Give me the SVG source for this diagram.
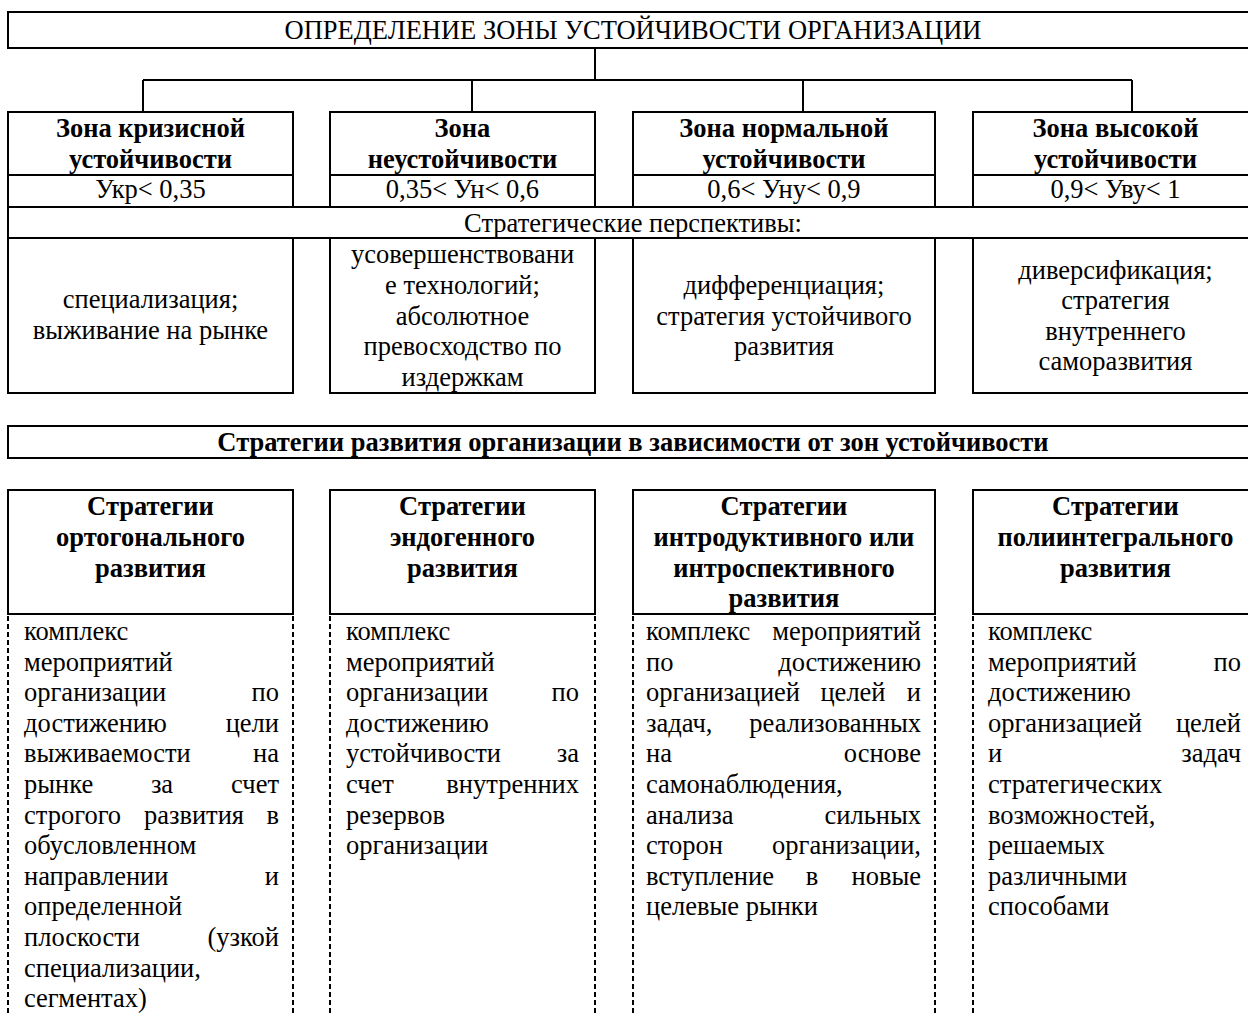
<svg xmlns="http://www.w3.org/2000/svg" width="1248" height="1014" viewBox="0 0 1248 1014">
<style>
.bx{fill:none;stroke:#000;stroke-width:2}
.ln{fill:none;stroke:#000;stroke-width:2}
.dt{fill:none;stroke:#000;stroke-width:2;stroke-dasharray:5 3}
text{font-family:"Liberation Serif","Times New Roman",serif;font-size:26.5px;fill:#000}
.b{font-weight:bold}
.c{text-anchor:middle}
.r{text-anchor:end}
</style>
<rect width="1248" height="1014" fill="#fff"/>
<g id="connectors">
<path class="ln" d="M595 48V80M143 80H1132M143 80V112M472 80V112M803 80V112M1132 80V112"/>
</g>
<g id="title">
<rect class="bx" x="8" y="12" width="1250" height="36"/>
<text class="c" x="633" y="38.5">ОПРЕДЕЛЕНИЕ ЗОНЫ УСТОЙЧИВОСТИ ОРГАНИЗАЦИИ</text>
</g>
<g id="zone1">
<rect class="bx" x="8" y="112" width="285" height="95"/>
<path class="ln" d="M8 175H293"/>
<text class="c b" x="150.5" y="137">Зона кризисной</text>
<text class="c b" x="150.5" y="167.5">устойчивости</text>
<text class="c" x="150.5" y="198">Укр&lt; 0,35</text>
</g>
<g id="zone2">
<rect class="bx" x="330" y="112" width="265" height="95"/>
<path class="ln" d="M330 175H595"/>
<text class="c b" x="462.5" y="137">Зона</text>
<text class="c b" x="462.5" y="167.5">неустойчивости</text>
<text class="c" x="462.5" y="198">0,35&lt; Ун&lt; 0,6</text>
</g>
<g id="zone3">
<rect class="bx" x="633" y="112" width="302" height="95"/>
<path class="ln" d="M633 175H935"/>
<text class="c b" x="784" y="137">Зона нормальной</text>
<text class="c b" x="784" y="167.5">устойчивости</text>
<text class="c" x="784" y="198">0,6&lt; Уну&lt; 0,9</text>
</g>
<g id="zone4">
<rect class="bx" x="973" y="112" width="285" height="95"/>
<path class="ln" d="M973 175H1258"/>
<text class="c b" x="1115.5" y="137">Зона высокой</text>
<text class="c b" x="1115.5" y="167.5">устойчивости</text>
<text class="c" x="1115.5" y="198">0,9&lt; Уву&lt; 1</text>
</g>
<g id="perspectives-row">
<rect class="bx" x="8" y="207" width="1250" height="31"/>
<text class="c" x="633" y="232">Стратегические перспективы:</text>
</g>
<g id="persp1">
<rect class="bx" x="8" y="238" width="285" height="155"/>
<text class="c" x="150.5" y="308">специализация;</text>
<text class="c" x="150.5" y="338.5">выживание на рынке</text>
</g>
<g id="persp2">
<rect class="bx" x="330" y="238" width="265" height="155"/>
<text class="c" x="462.5" y="263.3">усовершенствовани</text>
<text class="c" x="462.5" y="293.9">е технологий;</text>
<text class="c" x="462.5" y="324.5">абсолютное</text>
<text class="c" x="462.5" y="355.1">превосходство по</text>
<text class="c" x="462.5" y="385.7">издержкам</text>
</g>
<g id="persp3">
<rect class="bx" x="633" y="238" width="302" height="155"/>
<text class="c" x="784" y="294">дифференциация;</text>
<text class="c" x="784" y="324.5">стратегия устойчивого</text>
<text class="c" x="784" y="355">развития</text>
</g>
<g id="persp4">
<rect class="bx" x="973" y="238" width="285" height="155"/>
<text class="c" x="1115.5" y="278.6">диверсификация;</text>
<text class="c" x="1115.5" y="309.2">стратегия</text>
<text class="c" x="1115.5" y="339.8">внутреннего</text>
<text class="c" x="1115.5" y="370.4">саморазвития</text>
</g>
<g id="strategies-title">
<rect class="bx" x="8" y="426" width="1250" height="32"/>
<text class="c b" x="633" y="451">Стратегии развития организации в зависимости от зон устойчивости</text>
</g>
<g id="strategy1">
<rect class="bx" x="8" y="490" width="285" height="124"/>
<text class="c b" x="150.5" y="515">Стратегии</text>
<text class="c b" x="150.5" y="546">ортогонального</text>
<text class="c b" x="150.5" y="576.5">развития</text>
<path class="dt" d="M8 616V1014M293 616V1014"/>
<text x="24" y="640">комплекс</text>
<text x="24" y="670.6">мероприятий</text>
<text x="24" y="701.2">организации</text><text class="r" x="279" y="701.2">по</text>
<text x="24" y="731.8">достижению</text><text class="r" x="279" y="731.8">цели</text>
<text x="24" y="762.4">выживаемости</text><text class="r" x="279" y="762.4">на</text>
<text x="24" y="793">рынке</text><text class="c" x="162" y="793">за</text><text class="r" x="279" y="793">счет</text>
<text x="24" y="823.6">строгого</text><text class="c" x="194" y="823.6">развития</text><text class="r" x="279" y="823.6">в</text>
<text x="24" y="854.2">обусловленном</text>
<text x="24" y="884.8">направлении</text><text class="r" x="279" y="884.8">и</text>
<text x="24" y="915.4">определенной</text>
<text x="24" y="946">плоскости</text><text class="r" x="279" y="946">(узкой</text>
<text x="24" y="976.6">специализации,</text>
<text x="24" y="1007.2">сегментах)</text>
</g>
<g id="strategy2">
<rect class="bx" x="330" y="490" width="265" height="124"/>
<text class="c b" x="462.5" y="515">Стратегии</text>
<text class="c b" x="462.5" y="546">эндогенного</text>
<text class="c b" x="462.5" y="576.5">развития</text>
<path class="dt" d="M330 616V1014M595 616V1014"/>
<text x="346" y="640">комплекс</text>
<text x="346" y="670.6">мероприятий</text>
<text x="346" y="701.2">организации</text><text class="r" x="579" y="701.2">по</text>
<text x="346" y="731.8">достижению</text>
<text x="346" y="762.4">устойчивости</text><text class="r" x="579" y="762.4">за</text>
<text x="346" y="793">счет</text><text class="r" x="579" y="793">внутренних</text>
<text x="346" y="823.6">резервов</text>
<text x="346" y="854.2">организации</text>
</g>
<g id="strategy3">
<rect class="bx" x="633" y="490" width="302" height="124"/>
<text class="c b" x="784" y="515">Стратегии</text>
<text class="c b" x="784" y="546">интродуктивного или</text>
<text class="c b" x="784" y="576.5">интроспективного</text>
<text class="c b" x="784" y="607">развития</text>
<path class="dt" d="M633 616V1014M935 616V1014"/>
<text x="646" y="640">комплекс</text><text class="r" x="921" y="640">мероприятий</text>
<text x="646" y="670.6">по</text><text class="r" x="921" y="670.6">достижению</text>
<text x="646" y="701.2">организацией</text><text class="c" x="853" y="701.2">целей</text><text class="r" x="921" y="701.2">и</text>
<text x="646" y="731.8">задач,</text><text class="r" x="921" y="731.8">реализованных</text>
<text x="646" y="762.4">на</text><text class="r" x="921" y="762.4">основе</text>
<text x="646" y="793">самонаблюдения,</text>
<text x="646" y="823.6">анализа</text><text class="r" x="921" y="823.6">сильных</text>
<text x="646" y="854.2">сторон</text><text class="r" x="921" y="854.2">организации,</text>
<text x="646" y="884.8">вступление</text><text class="c" x="812" y="884.8">в</text><text class="r" x="921" y="884.8">новые</text>
<text x="646" y="915.4">целевые рынки</text>
</g>
<g id="strategy4">
<rect class="bx" x="973" y="490" width="285" height="124"/>
<text class="c b" x="1115.5" y="515">Стратегии</text>
<text class="c b" x="1115.5" y="546">полиинтегрального</text>
<text class="c b" x="1115.5" y="576.5">развития</text>
<path class="dt" d="M973 616V1014M1258 616V1014"/>
<text x="988" y="640">комплекс</text>
<text x="988" y="670.6">мероприятий</text><text class="r" x="1241" y="670.6">по</text>
<text x="988" y="701.2">достижению</text>
<text x="988" y="731.8">организацией</text><text class="r" x="1241" y="731.8">целей</text>
<text x="988" y="762.4">и</text><text class="r" x="1241" y="762.4">задач</text>
<text x="988" y="793">стратегических</text>
<text x="988" y="823.6">возможностей,</text>
<text x="988" y="854.2">решаемых</text>
<text x="988" y="884.8">различными</text>
<text x="988" y="915.4">способами</text>
</g>
</svg>
